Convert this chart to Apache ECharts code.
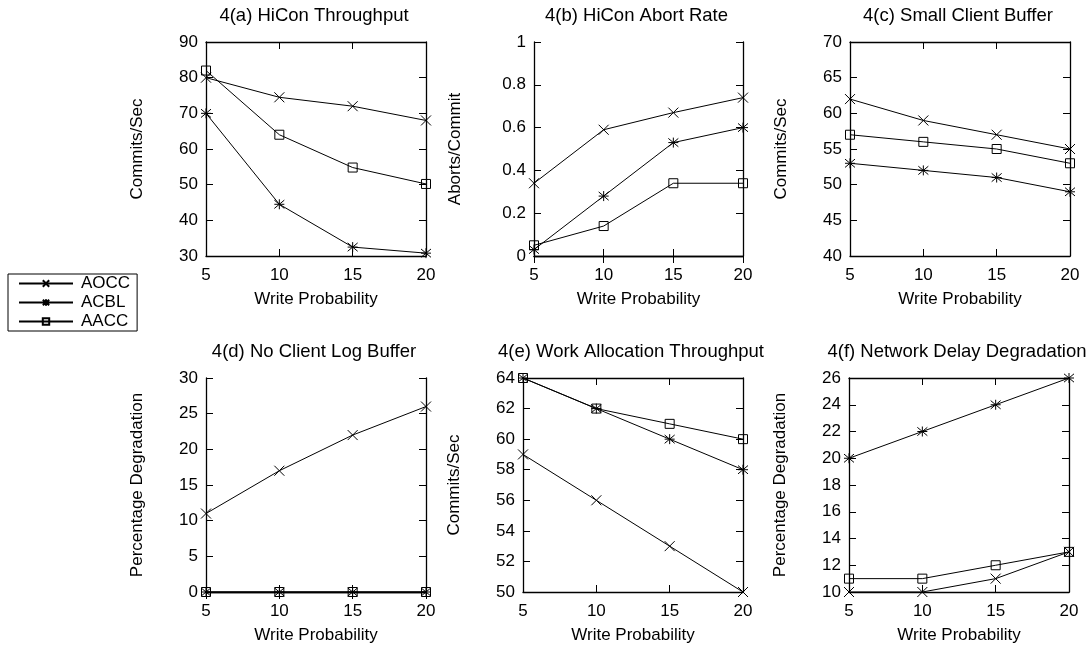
<!DOCTYPE html>
<html>
<head>
<meta charset="utf-8">
<script src="https://cdn.jsdelivr.net/npm/echarts@6/dist/echarts.min.js"></script>
<style>
html,body{margin:0;padding:0;background:#fff;}
#main{width:1092px;height:654px;}
</style>
</head>
<body>
<div id="main"></div>
<script>
// x 轴：写概率
const writeProb = [5, 10, 15, 20];
const seriesNames = ['AOCC', 'ACBL', 'AACC'];

// 4(a) HiCon Throughput
const aOCC_a = [80, 74.5, 72, 68];
const aCBL_a = [70, 44.5, 32.5, 30.8];
const aACC_a = [82, 64, 54.8, 50.2];
// 4(b) HiCon Abort Rate
const aOCC_b = [0.34, 0.59, 0.67, 0.74];
const aCBL_b = [0.03, 0.28, 0.53, 0.60];
const aACC_b = [0.05, 0.14, 0.34, 0.34];
// 4(c) Small Client Buffer
const aOCC_c = [62, 59, 57, 55];
const aCBL_c = [53, 52, 51, 49];
const aACC_c = [57, 56, 55, 53];
// 4(d) No Client Log Buffer
const aOCC_d = [11, 17, 22, 26];
const aCBL_d = [0, 0, 0, 0];
const aACC_d = [0, 0, 0, 0];
// 4(e) Work Allocation Throughput
const aOCC_e = [59, 56, 53, 50];
const aCBL_e = [64, 62, 60, 58];
const aACC_e = [64, 62, 61, 60];
// 4(f) Network Delay Degradation
const aOCC_f = [10, 10, 11, 13];
const aCBL_f = [20, 22, 24, 26];
const aACC_f = [11, 11, 12, 13];

// y 轴刻度范围
const yMin = [30, 0, 40, 0, 50, 10];
const yMax = [90, 1, 70, 30, 64, 26];
const yStep = [10, 0.2, 5, 5, 2, 2];

const titles = ['4(a) HiCon Throughput', '4(b) HiCon Abort Rate', '4(c) Small Client Buffer',
                '4(d) No Client Log Buffer', '4(e) Work Allocation Throughput', '4(f) Network Delay Degradation'];
const yNames = ['Commits/Sec', 'Aborts/Commit', 'Commits/Sec',
                'Percentage Degradation', 'Commits/Sec', 'Percentage Degradation'];

const panelData = [
    [aOCC_a, aCBL_a, aACC_a],
    [aOCC_b, aCBL_b, aACC_b],
    [aOCC_c, aCBL_c, aACC_c],
    [aOCC_d, aCBL_d, aACC_d],
    [aOCC_e, aCBL_e, aACC_e],
    [aOCC_f, aCBL_f, aACC_f]
];

// 布局
const layout = [
    {left: 206, top: 42, width: 220, gap: 60},
    {left: 534, top: 42, width: 209, gap: 70},
    {left: 850, top: 42, width: 220, gap: 60},
    {left: 206, top: 378, width: 220, gap: 60},
    {left: 523, top: 378, width: 220, gap: 60},
    {left: 849, top: 378, width: 220, gap: 60}
];
const plotH = 214;

const FONT = 'Liberation Sans, Arial, Helvetica, sans-serif';
const symbols = [
    'path://M0,0L10,10M10,0L0,10',
    'path://M0,0L10,10M10,0L0,10M5,-1L5,11M0,5L10,5',
    'path://M0,0L10,0L10,10L0,10Z'
];

const myChart = echarts.init(document.getElementById('main'));

const grids = [], xAxes = [], yAxes = [], series = [], titleList = [];
const lineAxis = {lineStyle: {color: '#000', width: 1.3}};
const tick = {inside: true, length: 7, lineStyle: {color: '#000'}};

layout.forEach((p, i) => {
    grids.push({left: p.left, top: p.top, width: p.width, height: plotH});
    titleList.push({
        text: titles[i],
        left: p.left + p.width / 2 - 2,
        top: p.top - 36,
        padding: 0,
        textAlign: 'center',
        textStyle: {fontFamily: FONT, fontSize: 18.5, fontWeight: 'normal', color: '#000'}
    });
    const xBase = {
        type: 'value', gridIndex: i, min: 5, max: 20, interval: 5,
        axisLine: lineAxis, axisTick: tick, splitLine: {show: false}
    };
    xAxes.push(Object.assign({}, xBase, {
        position: 'bottom',
        name: 'Write Probability', nameLocation: 'middle', nameGap: 35,
        nameTextStyle: {fontFamily: FONT, fontSize: 17, color: '#000'},
        axisLabel: {fontFamily: FONT, fontSize: 17, color: '#000', margin: 11}
    }));
    xAxes.push(Object.assign({}, xBase, {position: 'top', axisLabel: {show: false}}));

    const yBase = {
        type: 'value', gridIndex: i, min: yMin[i], max: yMax[i], interval: yStep[i],
        axisLine: Object.assign({show: true}, lineAxis), axisTick: tick, splitLine: {show: false}
    };
    yAxes.push(Object.assign({}, yBase, {
        position: 'left',
        name: yNames[i], nameLocation: 'middle', nameGap: p.gap, nameRotate: 90,
        nameTextStyle: {fontFamily: FONT, fontSize: 17, color: '#000'},
        axisLabel: {fontFamily: FONT, fontSize: 17, color: '#000', margin: 8}
    }));
    yAxes.push(Object.assign({}, yBase, {position: 'right', axisLabel: {show: false}}));

    panelData[i].forEach((vals, k) => {
        series.push({
            name: seriesNames[k],
            type: 'line',
            xAxisIndex: i * 2,
            yAxisIndex: i * 2,
            data: writeProb.map((x, j) => [x, vals[j]]),
            symbol: symbols[k],
            symbolSize: k === 2 ? 9 : 10,
            showAllSymbol: true,
            clip: false,
            lineStyle: {color: '#000', width: 1},
            itemStyle: {color: 'rgba(0,0,0,0)', borderColor: '#000', borderWidth: 1},
            emphasis: {disabled: true},
            animation: false
        });
    });
});

let option = {
    backgroundColor: '#fff',
    animation: false,
    title: titleList,
    legend: {
        orient: 'vertical',
        left: 8,
        top: 274,
        data: seriesNames,
        selectedMode: false,
        borderColor: '#000',
        borderWidth: 1,
        padding: [1, 7, 1, 10],
        itemWidth: 54,
        itemHeight: 8,
        itemGap: 2,
        textStyle: {fontFamily: FONT, fontSize: 17, color: '#000', padding: [0, 0, 0, 3]}
    },
    grid: grids,
    xAxis: xAxes,
    yAxis: yAxes,
    series: series
};

myChart.setOption(option, true);
</script>
</body>
</html>
